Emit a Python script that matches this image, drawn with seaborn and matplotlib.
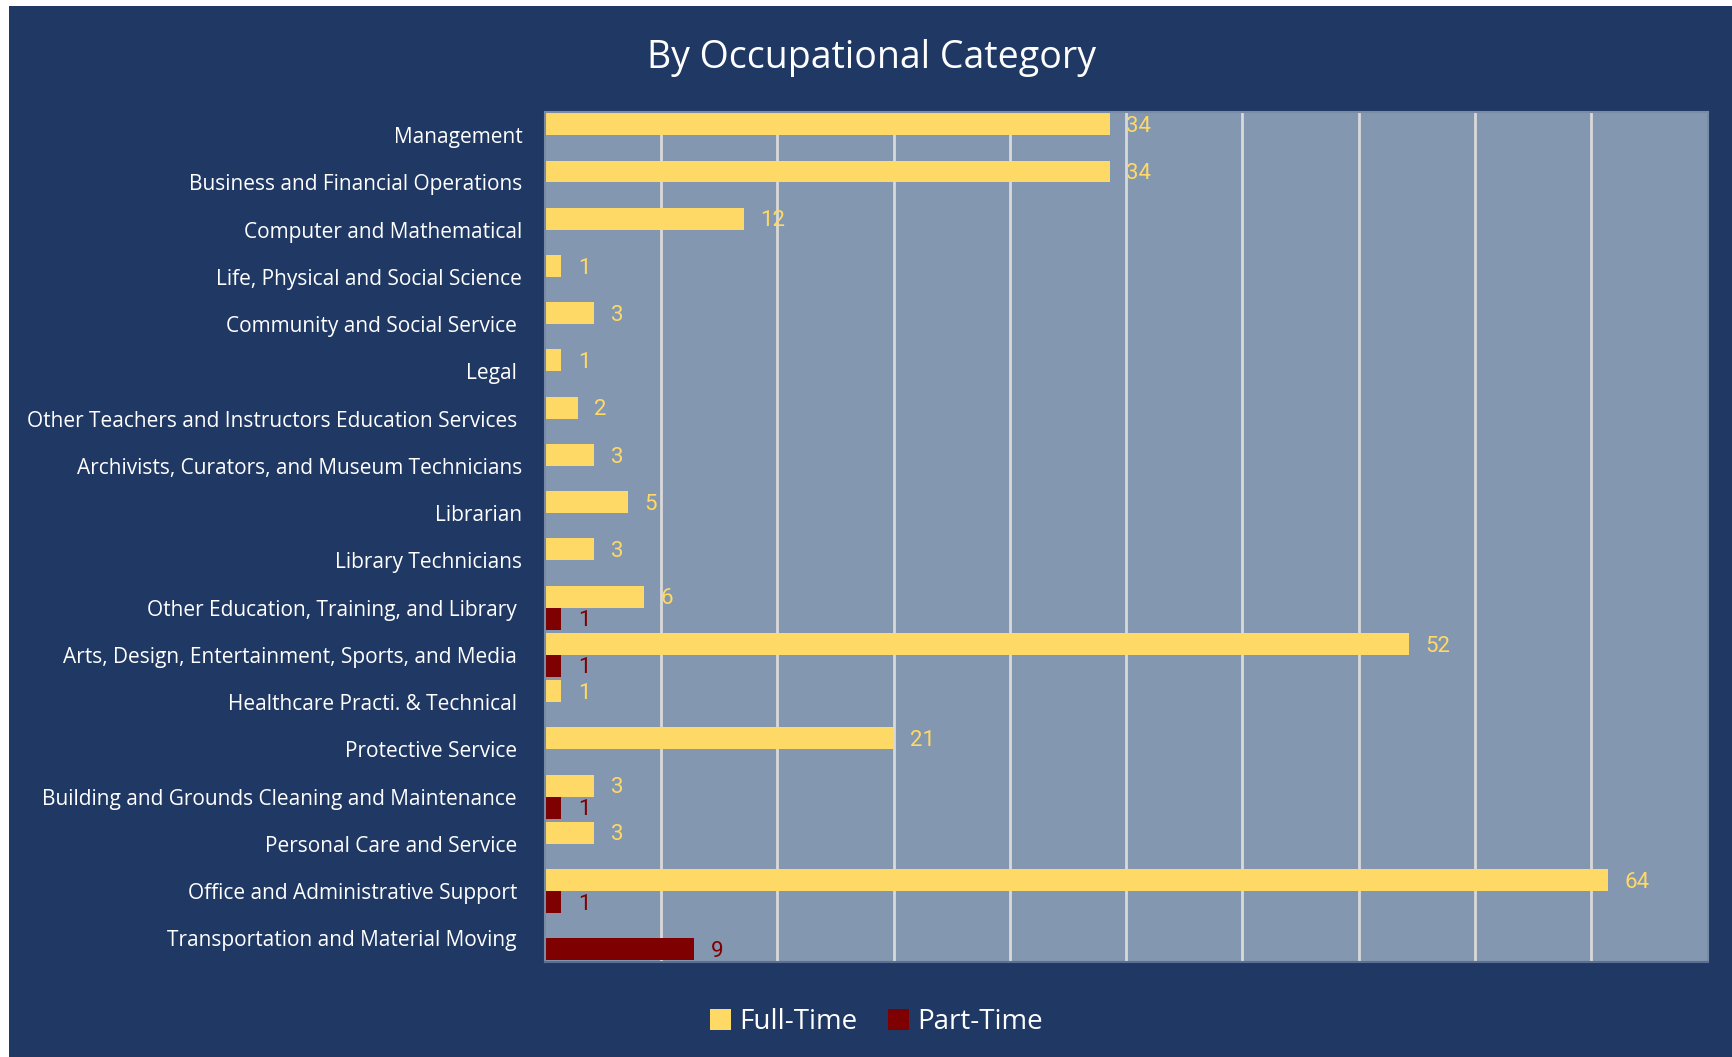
import matplotlib
matplotlib.use("Agg")
import matplotlib.pyplot as plt
import seaborn as sns
import pandas as pd
from matplotlib.patches import Patch, Rectangle

categories = [
    "Management", "Business and Financial Operations", "Computer and Mathematical",
    "Life, Physical and Social Science", "Community and Social Service ", "Legal ",
    "Other Teachers and Instructors Education Services ", "Archivists, Curators, and Museum Technicians",
    "Librarian", "Library Technicians", "Other Education, Training, and Library ",
    "Arts, Design, Entertainment, Sports, and Media ", "Healthcare Practi. & Technical ",
    "Protective Service ", "Building and Grounds Cleaning and Maintenance ",
    "Personal Care and Service ", "Office and Administrative Support ",
    "Transportation and Material Moving ",
]
full_time = [34, 34, 12, 1, 3, 1, 2, 3, 5, 3, 6, 52, 1, 21, 3, 3, 64, 0]
part_time = [0, 0, 0, 0, 0, 0, 0, 0, 0, 0, 1, 1, 0, 0, 1, 0, 1, 9]
series = ["Full-Time", "Part-Time"]

NAVY = "#203864"
PLOT_BG = "#8497B0"
YELLOW = "#FFD966"
RED = "#7F0000"

df = pd.DataFrame({
    "category": categories * 2,
    "value": full_time + part_time,
    "series": [series[0]] * len(categories) + [series[1]] * len(categories),
})

sns.set_theme(style="white")
plt.rcParams["font.family"] = ["Open Sans", "DejaVu Sans"]

fig = plt.figure(figsize=(17.32, 10.57), dpi=100, facecolor="white")
fig.patches.append(Rectangle((9 / 1732, 0), 1, 1 - 6 / 1057, transform=fig.transFigure,
                             facecolor=NAVY, edgecolor="none", zorder=-10))
ax = fig.add_axes([0.3144, 0.0899, 0.986 - 0.3144, 0.8944 - 0.0899])
ax.set_facecolor(PLOT_BG)

sns.barplot(data=df, y="category", x="value", hue="series", hue_order=series,
            palette=[YELLOW, RED], orient="h", width=0.93, gap=0, dodge=True,
            saturation=1, ax=ax, legend=False, errorbar=None, linewidth=0)

ax.set_xlim(0, 70)
ax.set_xticks(range(7, 71, 7))
ax.set_xticklabels([])
ax.tick_params(axis="x", length=0)
ax.grid(axis="x", color="#D9D9D9", linewidth=2)
ax.set_axisbelow(True)
ax.set_xlabel("")
ax.set_ylabel("")
ax.tick_params(axis="y", length=0, pad=16, labelsize=15, labelcolor="white")

for s in ax.spines.values():
    s.set_visible(True)
    s.set_color("#7A8BA6")
    s.set_linewidth(1.5)
ax.spines["bottom"].set_color("#5A6F92")

vals = [full_time, part_time]
colors = [YELLOW, RED]
for i, cont in enumerate(ax.containers):
    labels = [str(v) if v > 0 else "" for v in vals[i]]
    texts = ax.bar_label(cont, labels=labels, padding=12, color=colors[i], fontsize=16,
                         family=["Roboto", "DejaVu Sans"])
    for t in texts:
        t.xyann = (12, -1.5)

fig.text(0.503, 0.945, "By Occupational Category", ha="center", va="center",
         color="white", fontsize=27)

handles = [Patch(facecolor=YELLOW, edgecolor="none"), Patch(facecolor=RED, edgecolor="none")]
fig.legend(handles, series, loc="center", bbox_to_anchor=(0.506, 0.033), ncol=2,
           frameon=False, fontsize=20, labelcolor="white", handlelength=0.75,
           handleheight=0.75, handletextpad=0.3, columnspacing=1.1)

fig.savefig("out.png", dpi=100, facecolor=fig.get_facecolor())
